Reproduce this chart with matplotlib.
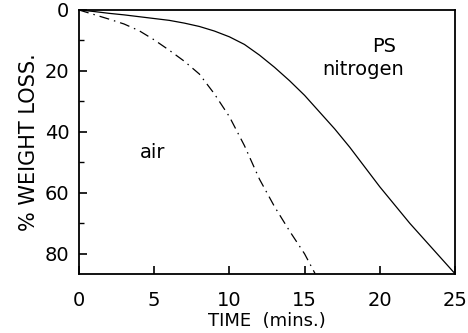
import matplotlib
matplotlib.use("Agg")
import matplotlib.pyplot as plt

time_nitrogen = [0, 1, 2, 3, 4, 5, 6, 7, 8, 9, 10, 11, 12, 13, 14, 15, 16,
                 17, 18, 19, 20, 21, 22, 23, 24, 25]
loss_nitrogen = [0, 0.5, 1.1, 1.6, 2.2, 2.8, 3.4, 4.3, 5.4, 6.9, 8.8, 11.3,
                 14.8, 18.8, 23.2, 28, 33.5, 39, 45, 51.5, 58, 64, 70, 75.5,
                 81, 86.5]

time_air = [0, 1, 2, 3, 4, 5, 6, 7, 8, 9, 10, 11, 12, 13, 14, 15, 15.7]
loss_air = [0, 1.5, 3.0, 4.6, 6.8, 9.8, 13.2, 16.8, 21.0, 27.5, 35, 44.5,
            55.5, 64.5, 72.5, 80, 86.5]

x_ticks = [0, 5, 10, 15, 20, 25]
y_ticks = [0, 20, 40, 60, 80]
y_minor = [10, 30, 50, 70]

plt.rcParams['font.family'] = ['DejaVu Sans']

fig = plt.figure(figsize=(4.68, 3.33), dpi=100)
ax = fig.add_axes([0.1688, 0.1772, 0.8034, 0.7928])

ax.plot(time_nitrogen, loss_nitrogen, color="black", lw=0.9)
ax.plot(time_air, loss_air, color="black", lw=0.9, dashes=(8, 4, 1.2, 4))

ax.set_xlim(0, 25)
ax.set_ylim(86.6, 0)

ax.set_xticks(x_ticks)
ax.set_yticks(y_ticks)
ax.set_yticks(y_minor, minor=True)
ax.tick_params(axis="both", which="major", direction="in", length=6,
               width=1.2, labelsize=14, pad=7)
ax.tick_params(axis="x", which="major", pad=12)
ax.tick_params(axis="y", which="minor", direction="in", length=3.5, width=1.0)

for s in ax.spines.values():
    s.set_linewidth(1.3)

ax.set_xlabel("TIME  (mins.)", fontsize=13, labelpad=2)
ax.set_ylabel("% WEIGHT LOSS.", fontsize=15, labelpad=4)

ax.text(20.3, 12.0, "PS", fontsize=14, ha="center", va="center")
ax.text(18.9, 19.6, "nitrogen", fontsize=14, ha="center", va="center")
ax.text(4.9, 46.6, "air", fontsize=14, ha="center", va="center")

fig.savefig("out.png", dpi=100)
